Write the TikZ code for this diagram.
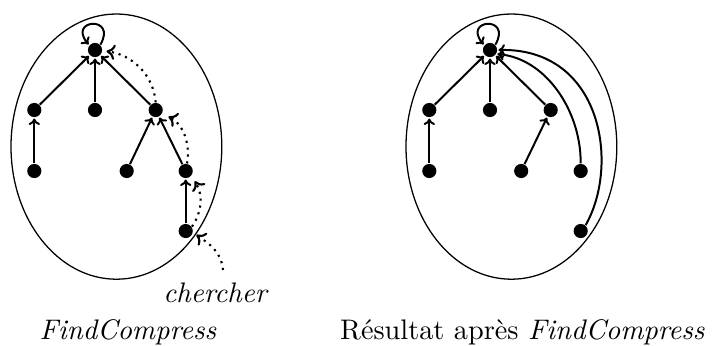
\documentclass[tikz,border=0pt]{standalone}
\usetikzlibrary{arrows.meta}
\begin{document}
\begin{tikzpicture}[x=0.3534pt,y=0.3534pt,
  dot/.style={circle,fill,inner sep=0pt,minimum size=5pt},
  arr/.style={line width=0.7pt,-{To[length=2.3pt,width=4pt]},shorten >=0.3pt},
  look/.style={line width=0.75pt,dash pattern=on 0.75pt off 1.7pt,
               -{To[length=3pt,width=5.4pt]},shorten >=1.4pt},
  blob/.style={line width=0.45pt},
  lbl/.style={anchor=base,inner sep=0pt}]
\useasboundingbox (0,0) rectangle (713,-345);

% --- left: the search path before compression ---
\draw[blob] (116.4,-146.6) ellipse [x radius=105.4, y radius=132.6];
\node[dot] (a0) at (95,-50) {};
\node[dot] (a1) at (34.3,-110) {};
\node[dot] (a2) at (95,-110) {};
\node[dot] (a3) at (155.7,-110) {};
\node[dot] (a4) at (34.3,-171) {};
\node[dot] (a5) at (126.7,-171) {};
\node[dot] (a6) at (185.7,-171) {};
\node[dot] (a7) at (185.7,-231) {};

\draw[arr] (a1) -- (a0);
\draw[arr] (a2) -- (a0);
\draw[arr] (a3) -- (a0);
\draw[arr] (a4) -- (a1);
\draw[arr] (a5) -- (a3);
\draw[arr] (a6) -- (a3);
\draw[arr] (a7) -- (a6);
\draw[arr] (a0.45) .. controls +(60:34) and +(130:34) .. (a0.140);

\coordinate (q) at (223,-270);
\draw[look] (q) to[out=95,in=-35] (a7.-12);
\draw[look,shorten >=2.2pt] (a7.35) .. controls (201,-214) and (204,-196) .. (a6.-40);
\draw[look,shorten >=2.4pt] (a6.80) to[out=80,in=-25] (a3.-30);
\draw[look] (a3.90) to[out=95,in=-8] (a0.-5);

\node[lbl] (query) at (215,-302) {\itshape chercher};
\node[lbl] (capA) at (128,-339) {\itshape FindCompress};

% --- right: every visited node now points to the root ---
\draw[blob] (511.4,-146.6) ellipse [x radius=105.4, y radius=132.6];
\node[dot] (b0) at (490,-50) {};
\node[dot] (b1) at (429.3,-110) {};
\node[dot] (b2) at (490,-110) {};
\node[dot] (b3) at (550.7,-110) {};
\node[dot] (b4) at (429.3,-171) {};
\node[dot] (b5) at (521.2,-171) {};
\node[dot] (b6) at (580.7,-171) {};
\node[dot] (b7) at (580.7,-231) {};

\draw[arr] (b1) -- (b0);
\draw[arr] (b2) -- (b0);
\draw[arr] (b3) -- (b0);
\draw[arr] (b4) -- (b1);
\draw[arr] (b5) -- (b3);
\draw[arr] (b6.north) .. controls (581,-110) and (545,-58) .. (b0.-32);
\draw[arr] (b7.50) .. controls (620,-165) and (602,-48) .. (b0.0);
\draw[arr] (b0.45) .. controls +(60:34) and +(130:34) .. (b0.140);

\node[lbl] (capB) at (522.5,-339) {Résultat après \textit{FindCompress}};
\end{tikzpicture}
\end{document}
